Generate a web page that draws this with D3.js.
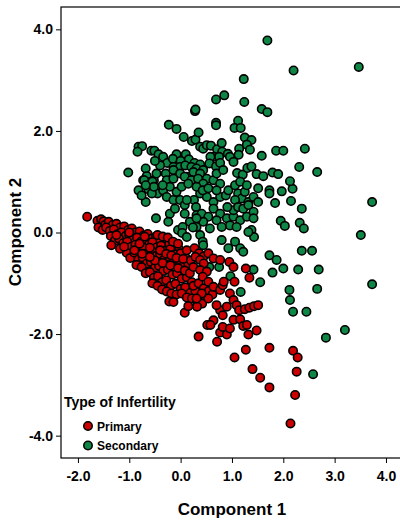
<!DOCTYPE html>
<html>
<head>
<meta charset="utf-8">
<script src="https://cdn.jsdelivr.net/npm/d3@7"></script>
<style>
  body { margin: 0; background: #fff; }
  text { font-family: "Liberation Sans", Arial, sans-serif; font-weight: bold; fill: #000; }
</style>
</head>
<body>
<div id="scatter"></div>
<script>
// Component scores: [component 1, component 2]
var secondary = [
  [1.69,3.78],[2.20,3.19],[3.47,3.26],[1.23,3.02],[0.69,2.62],[0.85,2.70],[1.24,2.57],[0.28,2.39],[0.29,2.42],
  [1.58,2.43],[1.69,2.37],[0.69,2.16],[0.69,2.11],[1.12,2.20],[1.05,2.06],[1.17,2.06],[-0.23,2.12],[-0.08,2.04],
  [0.06,1.88],[0.22,1.80],[0.29,1.83],[0.35,1.97],[0.38,1.69],[0.44,1.65],[0.51,1.72],[0.59,1.71],[0.71,1.64],
  [0.80,1.76],[0.81,1.59],[1.14,1.65],[1.13,1.53],[1.25,1.87],[1.38,1.82],[1.29,1.73],[1.35,1.63],[-0.82,1.69],
  [-0.75,1.70],[-0.84,1.59],[-0.57,1.61],[-0.51,1.61],[-0.43,1.54],[-0.34,1.49],[-0.08,1.54],[0.10,1.54],[0.92,1.55],
  [1.86,1.61],[2.00,1.61],[2.42,1.65],[1.58,1.51],[0.65,1.49],[0.75,1.49],[0.58,1.49],
  [-0.26,1.37],[-0.15,1.45],[0.00,1.41],[0.16,1.44],[0.27,1.37],[0.38,1.34],[-0.14,1.29],[-0.01,1.29],[0.09,1.32],
  [0.21,1.29],[0.31,1.26],[0.44,1.23],[0.56,1.36],[0.69,1.30],[0.77,1.37],[0.96,1.49],[1.03,1.39],[-0.68,1.26],
  [-0.29,1.16],[-0.14,1.23],[-0.01,1.16],[0.12,1.10],[0.25,1.19],[0.38,1.16],[0.51,1.06],[0.64,1.03],[0.77,0.96],
  [1.10,1.17],[1.21,1.14],[1.30,1.27],[1.38,1.30],[1.48,1.15],[1.61,1.11],[1.79,1.18],[1.90,1.15],[2.31,1.29],
  [2.66,1.19],[-1.02,1.18],[-0.66,1.11],[-0.73,1.03],[-0.58,1.00],[-0.52,1.03],[-0.27,1.03],[-0.14,1.06],[0.08,1.10],
  [0.21,1.03],[0.34,1.06],[0.44,0.96],[0.70,1.16],[0.83,1.23],[-0.47,1.16],[-0.40,1.32],[-0.50,1.41],
  [-0.82,0.83],[-0.71,1.03],[-0.63,0.85],[-0.55,1.00],[-0.45,0.77],[-0.34,0.83],[-0.27,0.70],[-0.68,0.60],[-0.56,0.77],
  [-0.52,0.90],[-0.14,0.64],[-0.01,0.64],[0.08,0.54],[0.26,0.64],[0.38,0.77],[0.51,0.70],[0.64,0.60],[0.77,0.70],
  [0.88,0.73],[-0.08,0.80],[-0.21,0.90],[0.02,0.90],[0.15,0.96],[0.31,0.90],[0.43,0.83],[0.54,0.87],[0.70,0.83],
  [0.93,0.83],[1.06,0.93],[1.12,0.77],[1.19,0.67],[1.25,0.80],[1.06,0.64],[1.32,0.60],[1.42,0.70],[1.51,0.87],
  [1.73,0.83],[1.97,0.81],[2.18,0.86],[2.13,1.01],[1.73,0.77],[1.84,0.58],[2.15,0.62],[1.16,1.00],[1.29,0.93],
  [-0.35,0.93],[-0.76,0.73],[-0.68,0.93],
  [2.36,0.47],[0.30,0.50],[0.31,0.34],[0.41,0.37],[0.54,0.31],[0.64,0.47],[0.77,0.37],[0.90,0.28],[1.03,0.31],
  [1.16,0.24],[1.29,0.31],[1.42,0.41],[1.42,0.28],[-0.21,0.37],[-0.24,0.21],[-0.05,0.05],[0.04,0.11],[-0.48,0.28],
  [0.31,0.11],[0.57,0.08],[1.03,0.44],[1.12,0.50],[1.22,0.47],[1.32,0.54],[0.96,0.14],[1.09,0.11],[-0.11,0.47],
  [0.08,0.37],[0.18,0.21],[0.44,0.21],[0.70,0.24],[0.80,0.11],[1.95,0.23],[2.03,0.13],[2.32,0.19],[2.40,0.08],
  [3.73,0.60],[1.51,0.60],[0.91,0.50],[0.12,0.64],[0.24,0.10],[0.31,0.28],[0.03,-0.01],
  [3.51,-0.05],[0.12,-0.09],[0.38,-0.05],[0.43,-0.18],[0.80,-0.15],[0.93,-0.31],[1.06,-0.18],[1.16,-0.31],[1.22,-0.38],
  [1.38,0.05],[1.43,-0.09],[1.32,0.01],[0.44,-0.25],[0.56,-0.68],[0.75,-0.68],[1.73,-0.45],[1.87,-0.54],[2.36,-0.36],
  [2.56,-0.36],[2.00,-0.71],[1.42,-0.73],[2.69,-0.73],[2.29,-0.73],
  [0.97,-0.86],[1.17,-1.17],[1.55,-0.98],[1.79,-0.79],[2.12,-1.13],[2.13,-1.33],[2.19,-1.56],[2.66,-1.11],[2.45,-1.56],
  [2.83,-2.07],[3.20,-1.92],[2.58,-2.79],[3.73,-1.02]
];

var primary = [
  [-1.82,0.31],[-1.62,0.23],[-1.60,0.10],[-1.55,0.26],[-1.50,0.22],[-1.47,0.15],[-1.52,0.05],
  [-1.40,0.21],[-1.32,0.15],[-1.25,0.17],[-1.18,0.10],[-1.10,0.12],[-1.02,0.05],[-0.95,0.08],[-0.88,0.00],[-0.80,0.02],
  [-0.72,-0.06],[-0.64,-0.03],[-0.56,-0.12],[-0.48,-0.08],[-0.40,-0.17],[-0.30,-0.11],[-0.22,-0.22],[-0.12,-0.21],[-0.03,-0.33],
  [-1.45,0.10],[-1.38,0.03],[-1.30,0.06],[-1.22,-0.03],[-1.15,0.00],[-1.07,-0.07],[-1.00,-0.05],[-0.92,-0.13],[-0.85,-0.10],
  [-0.77,-0.18],[-0.70,-0.14],[-0.62,-0.24],[-0.55,-0.19],[-0.46,-0.29],[-0.38,-0.26],[-0.30,-0.36],[-0.20,-0.33],[-0.10,-0.43],
  [0.00,-0.41],[0.10,-0.50],
  [-1.36,-0.07],[-1.28,-0.16],[-1.20,-0.12],[-1.12,-0.21],[-1.04,-0.18],[-0.96,-0.28],[-0.88,-0.24],[-0.80,-0.34],[-0.72,-0.30],
  [-0.64,-0.40],[-0.56,-0.36],[-0.48,-0.46],[-0.40,-0.42],[-0.31,-0.52],[-0.22,-0.48],[-0.13,-0.59],[-0.04,-0.56],[0.05,-0.66],
  [0.15,-0.62],
  [-1.35,-0.25],[-1.18,-0.32],[-1.05,-0.40],[-0.98,-0.50],[-0.90,-0.40],[-0.82,-0.53],[-0.74,-0.49],[-0.66,-0.61],[-0.58,-0.58],
  [-0.50,-0.69],[-0.42,-0.66],[-0.34,-0.76],[-0.25,-0.73],[-0.16,-0.83],[-0.07,-0.80],[0.02,-0.91],[0.12,-0.88],[0.22,-0.98],
  [-0.86,-0.64],[-0.76,-0.68],[-0.68,-0.80],[-0.60,-0.78],[-0.52,-0.89],[-0.44,-0.86],[-0.36,-0.98],[-0.28,-0.94],[-0.19,-1.05],
  [-0.10,-1.01],[0.00,-1.11],[0.09,-1.08],[0.19,-1.19],[0.29,-1.16],[0.38,-1.27],
  [-0.55,-1.00],[-0.45,-1.05],[-0.36,-1.12],[-0.27,-1.16],[-0.18,-1.20],[-0.08,-1.22],[0.02,-1.20],[0.12,-1.28],[0.22,-1.30],
  [0.32,-1.35],[0.42,-1.40],[-0.22,-1.36],[-0.14,-1.37],[0.08,-1.58],[0.15,-1.45],[0.32,-1.46],
  [-0.45,-0.05],[-0.35,-0.08],[-0.25,-0.10],[-0.15,-0.18],[-0.05,-0.22],[-0.40,-0.35],[-0.28,-0.42],[-0.18,-0.45],[-0.08,-0.50],
  [0.05,-0.52],[-0.50,-0.55],[-0.35,-0.60],[-0.20,-0.65],[-0.05,-0.70],[0.08,-0.75],[0.18,-0.80],[-0.60,-0.48],[-0.75,-0.42],
  [-0.90,-0.35],[-1.10,-0.28],[-1.25,-0.05],[-1.00,0.00],[-0.80,-0.22],[-0.70,-0.08],[-0.60,-0.30],[0.12,-0.35],[0.20,-0.55],
  [0.25,-1.05],[0.35,-1.00],[0.45,-1.10],[0.55,-1.15],[0.62,-1.22],
  [0.27,-0.31],[0.36,-0.41],[0.45,-0.47],[0.54,-0.41],[0.64,-0.51],[0.77,-0.54],[0.95,-0.58],[0.29,-0.48],[0.38,-0.54],
  [0.45,-0.61],[0.25,-0.68],[0.38,-0.74],[0.51,-0.77],[0.43,-0.87],[0.54,-0.97],[0.64,-1.07],[0.77,-1.13],[0.82,-1.04],
  [0.84,-0.97],[0.96,-1.20],[1.03,-1.33],[1.09,-1.43],[1.14,-1.53],[0.77,-1.53],[0.82,-1.63],[0.90,-1.46],[0.70,-1.43],
  [0.54,-1.30],[0.41,-1.20],[0.31,-1.30],[1.25,-1.51],[1.34,-1.48],[1.43,-1.45],[1.51,-1.43],[1.05,-0.97],[1.27,-0.71],
  [1.34,-0.89],[1.03,-0.68],
  [0.35,-2.05],[0.52,-1.82],[0.64,-1.73],[0.58,-1.82],[0.71,-2.15],[0.77,-1.97],[0.90,-2.01],[0.82,-1.86],[0.96,-1.89],
  [1.03,-1.72],[1.16,-1.71],[1.22,-1.84],[1.32,-2.01],[1.48,-1.93],[1.29,-1.82],[1.05,-2.46],[1.27,-2.31],[1.40,-2.69],
  [1.55,-2.86],[1.73,-3.05],[1.73,-2.27],[2.19,-2.33],[2.28,-2.46],[2.26,-2.74],[2.23,-3.20],[2.14,-3.76]
];

var groupNames = ["Primary", "Secondary"];
var groupColors = ["#cc0000", "#0e8746"];
var xTicks = [-2, -1, 0, 1, 2, 3, 4];
var yTicks = [-4, -2, 0, 2, 4];

var svgWidth = 400;
var svgHeight = 522;

var svg = d3.select("#scatter")
  .append("svg")
  .attr("width", svgWidth)
  .attr("height", svgHeight);

// plot frame runs past the right edge of the picture
var frame = { left: 61, top: 7, right: 406, bottom: 458 };

var xScale = d3.scaleLinear()
  .domain([-2.33, 4.39])
  .range([frame.left, frame.right]);

var yScale = d3.scaleLinear()
  .domain([-4.44, 4.44])
  .range([frame.bottom, frame.top]);

var fmt = function(d) { return d.toFixed(1); };

// axes
var xAxis = svg.append("g")
  .attr("transform", `translate(0, ${frame.bottom})`)
  .call(d3.axisBottom(xScale).tickValues(xTicks).tickFormat(fmt).tickSize(5).tickPadding(8));

var yAxis = svg.append("g")
  .attr("transform", `translate(${frame.left}, 0)`)
  .call(d3.axisLeft(yScale).tickValues(yTicks).tickFormat(fmt).tickSize(5).tickPadding(3));

[xAxis, yAxis].forEach(function(g) {
  g.select(".domain").remove();
  g.selectAll("line").attr("stroke", "#000");
  g.selectAll("text").style("font-size", "14px");
});

svg.append("rect")
  .attr("x", frame.left)
  .attr("y", frame.top)
  .attr("width", frame.right - frame.left)
  .attr("height", frame.bottom - frame.top)
  .attr("fill", "none")
  .attr("stroke", "#000")
  .attr("stroke-width", 1.2);

// points
var plot = svg.append("g");

plot.selectAll(".sec")
  .data(secondary)
  .enter()
  .append("circle")
  .attr("class", "sec")
  .attr("cx", d => xScale(d[0]))
  .attr("cy", d => yScale(d[1]))
  .attr("r", 4.2)
  .attr("fill", groupColors[1])
  .attr("stroke", "#000")
  .attr("stroke-width", 1.6);

plot.selectAll(".pri")
  .data(primary)
  .enter()
  .append("circle")
  .attr("class", "pri")
  .attr("cx", d => xScale(d[0]))
  .attr("cy", d => yScale(d[1]))
  .attr("r", 4.2)
  .attr("fill", groupColors[0])
  .attr("stroke", "#000")
  .attr("stroke-width", 1.6);

// axis titles
svg.append("text")
  .attr("x", 232)
  .attr("y", 515)
  .attr("text-anchor", "middle")
  .style("font-size", "17px")
  .text("Component 1");

svg.append("text")
  .attr("transform", "translate(21, 232) rotate(-90)")
  .attr("text-anchor", "middle")
  .style("font-size", "17px")
  .text("Component 2");

// legend
var legend = svg.append("g");

legend.append("text")
  .attr("x", 64)
  .attr("y", 407)
  .style("font-size", "14px")
  .text("Type of Infertility");

var items = legend.selectAll(".item")
  .data(groupNames)
  .enter()
  .append("g")
  .attr("class", "item")
  .attr("transform", (d, i) => `translate(88, ${426 + i * 19.5})`);

items.append("circle")
  .attr("r", 4.2)
  .attr("fill", (d, i) => groupColors[i])
  .attr("stroke", "#000")
  .attr("stroke-width", 1.6);

items.append("text")
  .attr("x", 9)
  .attr("dy", "0.38em")
  .style("font-size", "12px")
  .text(d => d);
</script>
</body>
</html>
